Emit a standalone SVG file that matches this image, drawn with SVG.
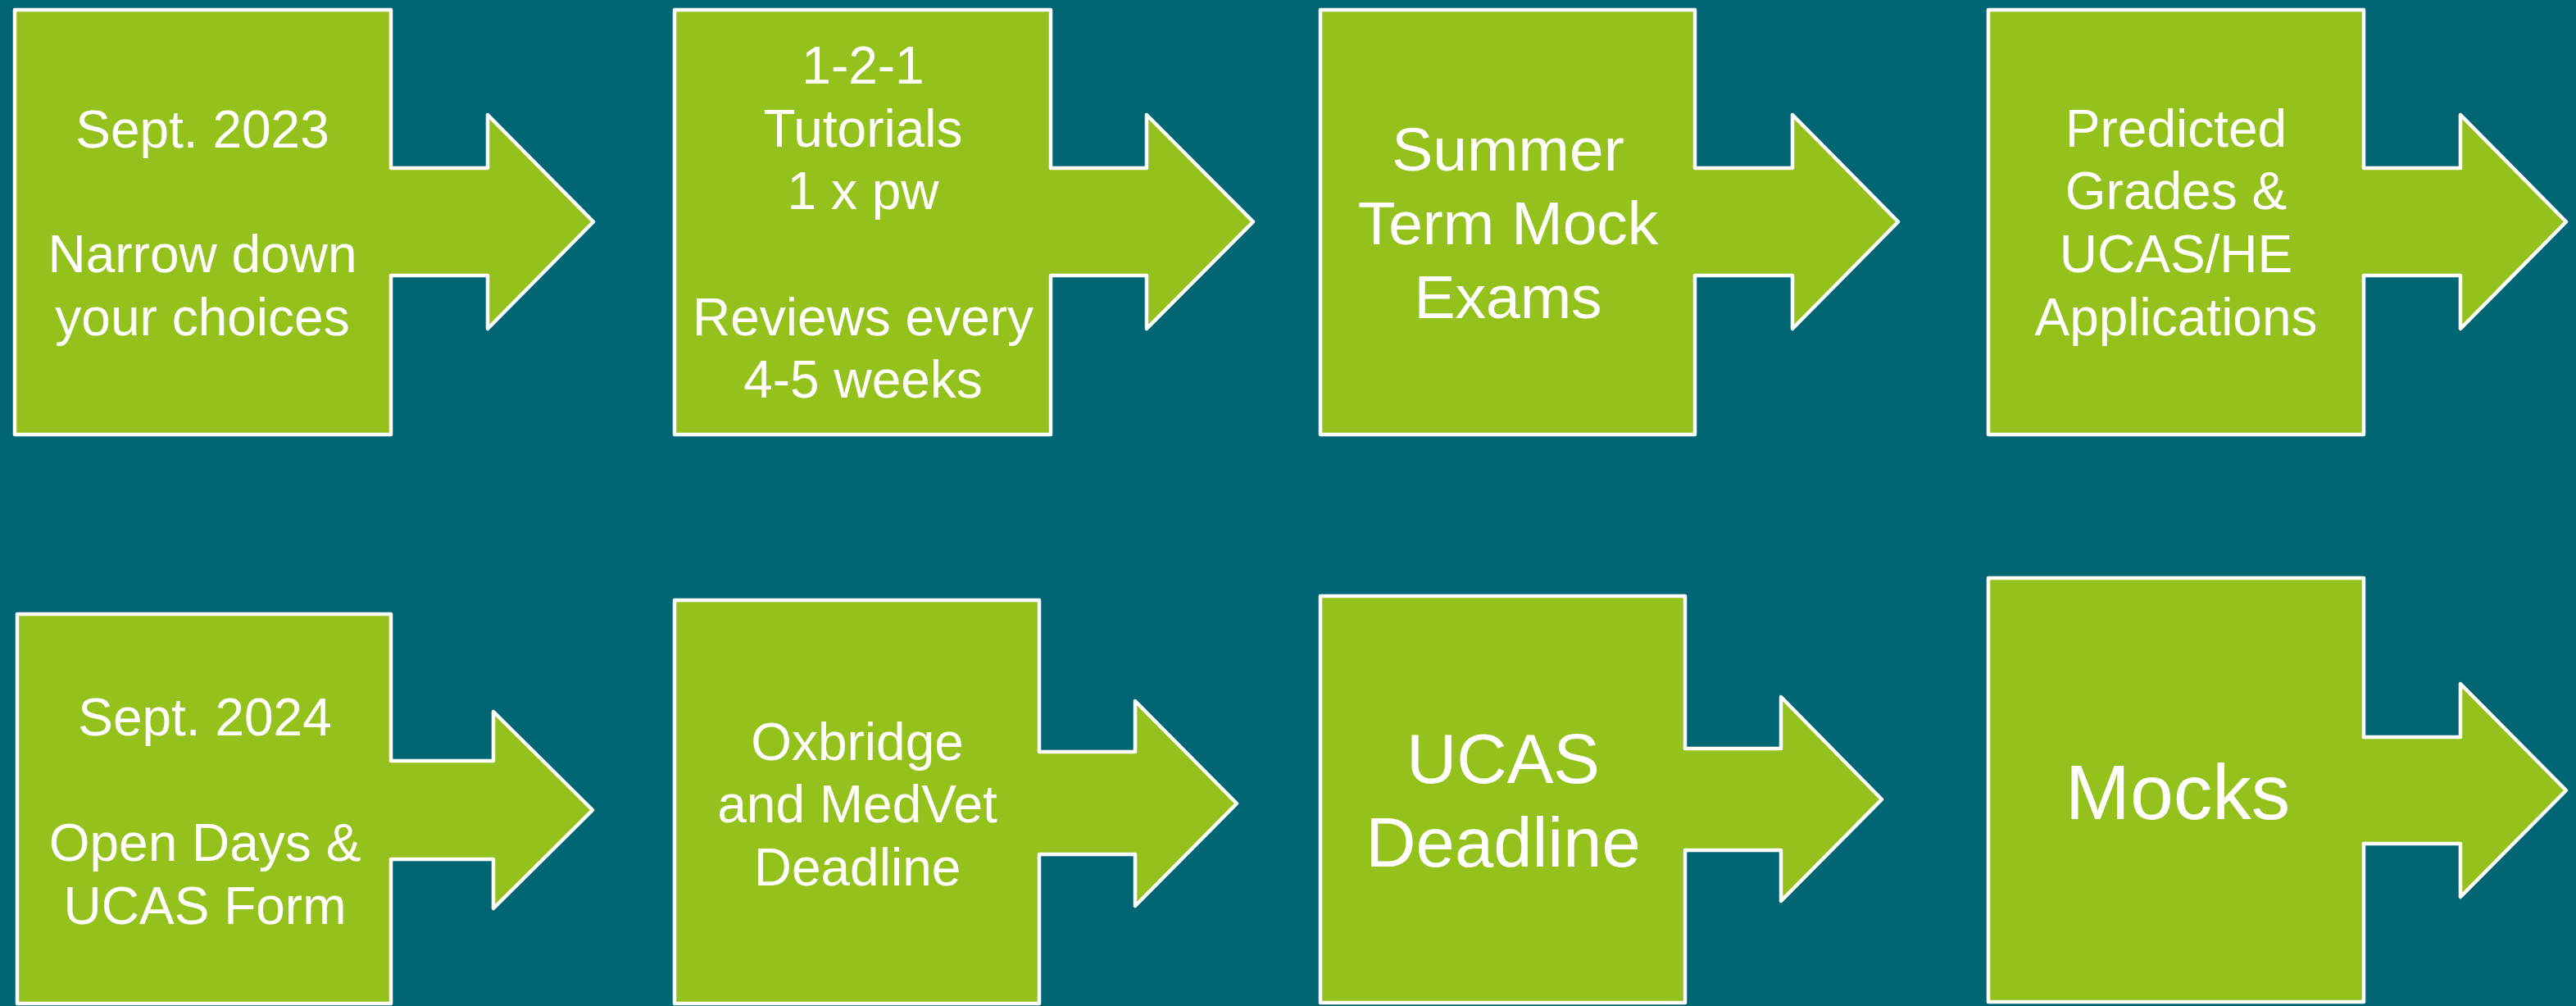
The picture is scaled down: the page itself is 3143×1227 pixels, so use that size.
<svg xmlns="http://www.w3.org/2000/svg" width="3143" height="1227" viewBox="0 0 3143 1227">
<style>
.shape{fill:#95C11D;stroke:#FFFFFF;stroke-width:4.5;stroke-linejoin:round}
.t{font-family:"Liberation Sans",Arial,sans-serif;fill:#FFFFFF;text-anchor:middle}
.s64{font-size:64px}
.s75{font-size:75px}
.s85{font-size:85px}
.s95{font-size:95px}
</style>
<rect x="0" y="0" width="3143" height="1227" fill="#006674"/>
<g id="connectors"></g>
<g id="node1">
<path class="shape" d="M18,12 H477 V205 H595 V140 L724,270.5 L595,401 V336 H477 V530 H18 Z"/>
<text class="t s64" x="247" y="180">Sept. 2023</text>
<text class="t s64" x="247" y="332">Narrow down</text>
<text class="t s64" x="247" y="409">your choices</text>
</g>
<g id="node2">
<path class="shape" d="M823,12 H1282 V205 H1399 V140 L1529,270.5 L1399,401 V336 H1282 V530 H823 Z"/>
<text class="t s64" x="1053" y="102">1-2-1</text>
<text class="t s64" x="1053" y="179">Tutorials</text>
<text class="t s64" x="1053" y="255">1 x pw</text>
<text class="t s64" x="1053" y="409">Reviews every</text>
<text class="t s64" x="1053" y="485">4-5 weeks</text>
</g>
<g id="node3">
<path class="shape" d="M1611,12 H2068 V205 H2187 V140 L2316,270.5 L2187,401 V336 H2068 V530 H1611 Z"/>
<text class="t s75" x="1840" y="208">Summer</text>
<text class="t s75" x="1840" y="298">Term Mock</text>
<text class="t s75" x="1840" y="388">Exams</text>
</g>
<g id="node4">
<path class="shape" d="M2426,12 H2884 V205 H3002 V140 L3131,270.5 L3002,401 V336 H2884 V530 H2426 Z"/>
<text class="t s64" x="2655" y="179">Predicted</text>
<text class="t s64" x="2655" y="255">Grades &amp;</text>
<text class="t s64" x="2655" y="332">UCAS/HE</text>
<text class="t s64" x="2655" y="409">Applications</text>
</g>
<g id="node5">
<path class="shape" d="M21,749 H477 V928 H602 V868 L723,988 L602,1108 V1048 H477 V1224 H21 Z"/>
<text class="t s64" x="250" y="897">Sept. 2024</text>
<text class="t s64" x="250" y="1050">Open Days &amp;</text>
<text class="t s64" x="250" y="1127">UCAS Form</text>
</g>
<g id="node6">
<path class="shape" d="M823,732 H1268 V917 H1385 V855 L1509,980 L1385,1105 V1042 H1268 V1224 H823 Z"/>
<text class="t s64" x="1046" y="927">Oxbridge</text>
<text class="t s64" x="1046" y="1003">and MedVet</text>
<text class="t s64" x="1046" y="1080">Deadline</text>
</g>
<g id="node7">
<path class="shape" d="M1611,727 H2056 V913 H2173 V850 L2296,975 L2173,1099 V1037 H2056 V1223 H1611 Z"/>
<text class="t s85" x="1834" y="955">UCAS</text>
<text class="t s85" x="1834" y="1057">Deadline</text>
</g>
<g id="node8">
<path class="shape" d="M2426,705 H2884 V899 H3002 V834 L3131,964 L3002,1094 V1029 H2884 V1222 H2426 Z"/>
<text class="t s95" x="2657" y="999">Mocks</text>
</g>
</svg>
